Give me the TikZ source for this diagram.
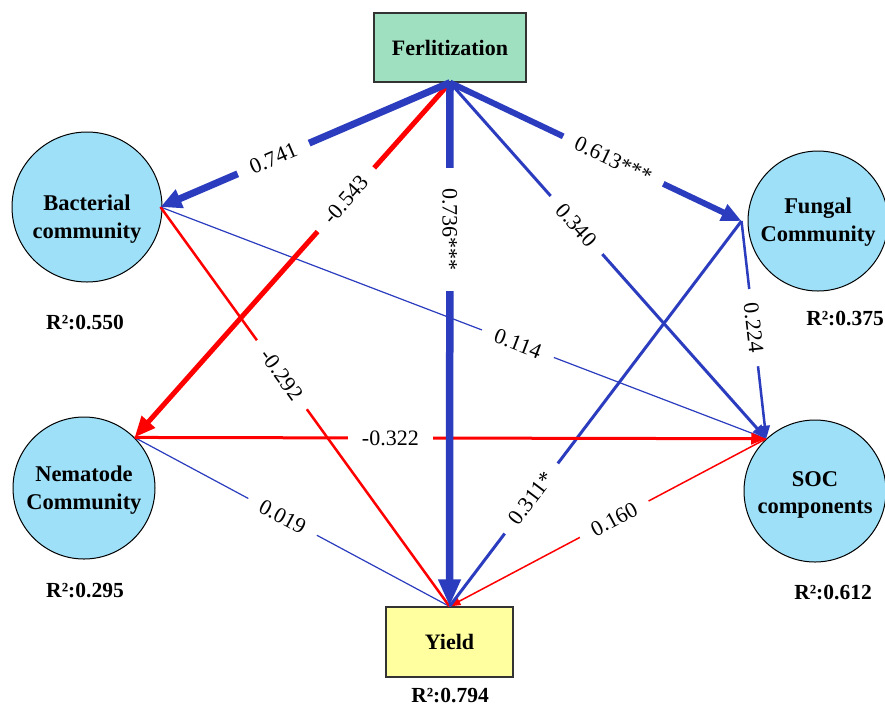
\documentclass[tikz,border=0pt]{standalone}
\usepackage{fontspec}
\setmainfont{Liberation Serif}
\usetikzlibrary{arrows.meta}
\definecolor{pblue}{RGB}{43,60,190}
\definecolor{pred}{RGB}{255,0,0}
\definecolor{circfill}{RGB}{158,224,248}
\definecolor{ferfill}{RGB}{159,224,192}
\definecolor{yldfill}{RGB}{255,255,160}
\begin{document}
\begin{tikzpicture}[x=1pt,y=-1pt,
  lat/.style={circle,draw=black,line width=1pt,fill=circfill,inner sep=0pt},
  lattext/.style={align=center,inner sep=0pt,font=\fontsize{22.5}{27.5}\selectfont\bfseries},
  box/.style={draw=black!80,line width=1.2pt,inner sep=0pt,
    font=\fontsize{22}{25}\selectfont\bfseries},
  rsq/.style={font=\fontsize{21.5}{24}\selectfont\bfseries},
  lab/.style={fill=white,inner xsep=14pt,inner ysep=1pt,
    font=\fontsize{22}{25}\selectfont},
  pe/.style={draw=pblue},
  ne/.style={draw=pred}
]
\useasboundingbox[fill=white] (0,0) rectangle (885,710);

% nodes
\node[box,fill=ferfill,minimum width=152pt,minimum height=69pt] (fer) at (450,47.5) {Ferlitization};
\node[box,fill=yldfill,minimum width=127pt,minimum height=70pt] (yld) at (449.5,642) {Yield};
\node[lat,minimum size=150pt] (bac) at (87,207) {};
\node[lat,minimum size=140pt] (fun) at (818,221) {};
\node[lat,minimum size=142pt] (nem) at (84,488) {};
\node[lat,minimum size=142pt] (soc) at (815,491) {};
\node[lattext] (bact) at ([yshift=-12pt]bac.center) {Bacterial\\community};
\node[lattext] (funt) at ([yshift=-1pt]fun.center) {Fungal\\Community};
\node[lattext] (nemt) at ([yshift=-2pt]nem.center) {Nematode\\Community};
\node[lattext] (soct) at ([yshift=-4pt]soc.center) {SOC\\components};

% R^2 labels
\node[rsq] (rbac) at (85,322) {R²:0.550};
\node[rsq] (rfun) at (845,318) {R²:0.375};
\node[rsq] (rnem) at (85,590) {R²:0.295};
\node[rsq] (rsoc) at (833,592) {R²:0.612};
\node[rsq] (ryld) at (450,695) {R²:0.794};

% connection points
\coordinate (pF) at (fer.south);
\coordinate (pY) at (yld.north);
\coordinate (pB) at ([xshift=-2pt]bac.east);
\coordinate (pFu) at ([xshift=-6pt]fun.west);
\coordinate (pN) at (nem.45);
\coordinate (pS) at (soc.133);

% thin paths
\draw[pe,line width=1.2pt] (pB) -- node[lab,sloped,pos=0.59]{0.114} (pS);
\draw[pe,line width=1.2pt] (pN) -- node[lab,sloped,pos=0.47]{0.019} (pY);
\draw[ne,line width=1.5pt,-{Triangle[length=11pt,width=8pt]}] (pS) -- node[lab,sloped,pos=0.48]{0.160} (pY);
\draw[ne,line width=2.5pt] (pB) -- node[lab,sloped,pos=0.42]{-0.292} (pY);
\draw[pe,line width=3pt] (pY) -- node[lab,sloped,pos=0.28]{0.311*} (pFu);
\draw[pe,line width=2.5pt,-{Triangle[length=13pt,width=10pt]}] (pFu) -- node[lab,sloped,pos=0.49]{0.224} (pS);
\draw[pe,line width=3pt,-{Triangle[length=14pt,width=11pt]}] (pF) -- node[lab,sloped,pos=0.40]{0.340} (pS);
\draw[ne,line width=3pt,-{Triangle[length=15pt,width=11pt]}] (pN) -- node[lab,pos=0.405]{-0.322} (pS);

% thick paths
\draw[ne,line width=5pt,-{Triangle[length=21pt,width=17pt]}] (pF) -- node[lab,sloped,pos=0.33]{-0.543} (pN);
\draw[pe,line width=6pt,-{Triangle[length=20pt,width=17pt]}] (pF) -- node[lab,sloped,pos=0.56]{0.613***} (pFu);
\draw[pe,line width=7pt,-{Triangle[length=21pt,width=19pt]}] (pF) -- node[lab,sloped,pos=0.61]{0.741} (pB);
\draw[pe,line width=7.5pt,-{Triangle[length=27pt,width=21pt]}] (pF) -- node[lab,rotate=-90,pos=0.28,inner xsep=20pt]{0.736***} (pY);
\end{tikzpicture}
\end{document}
